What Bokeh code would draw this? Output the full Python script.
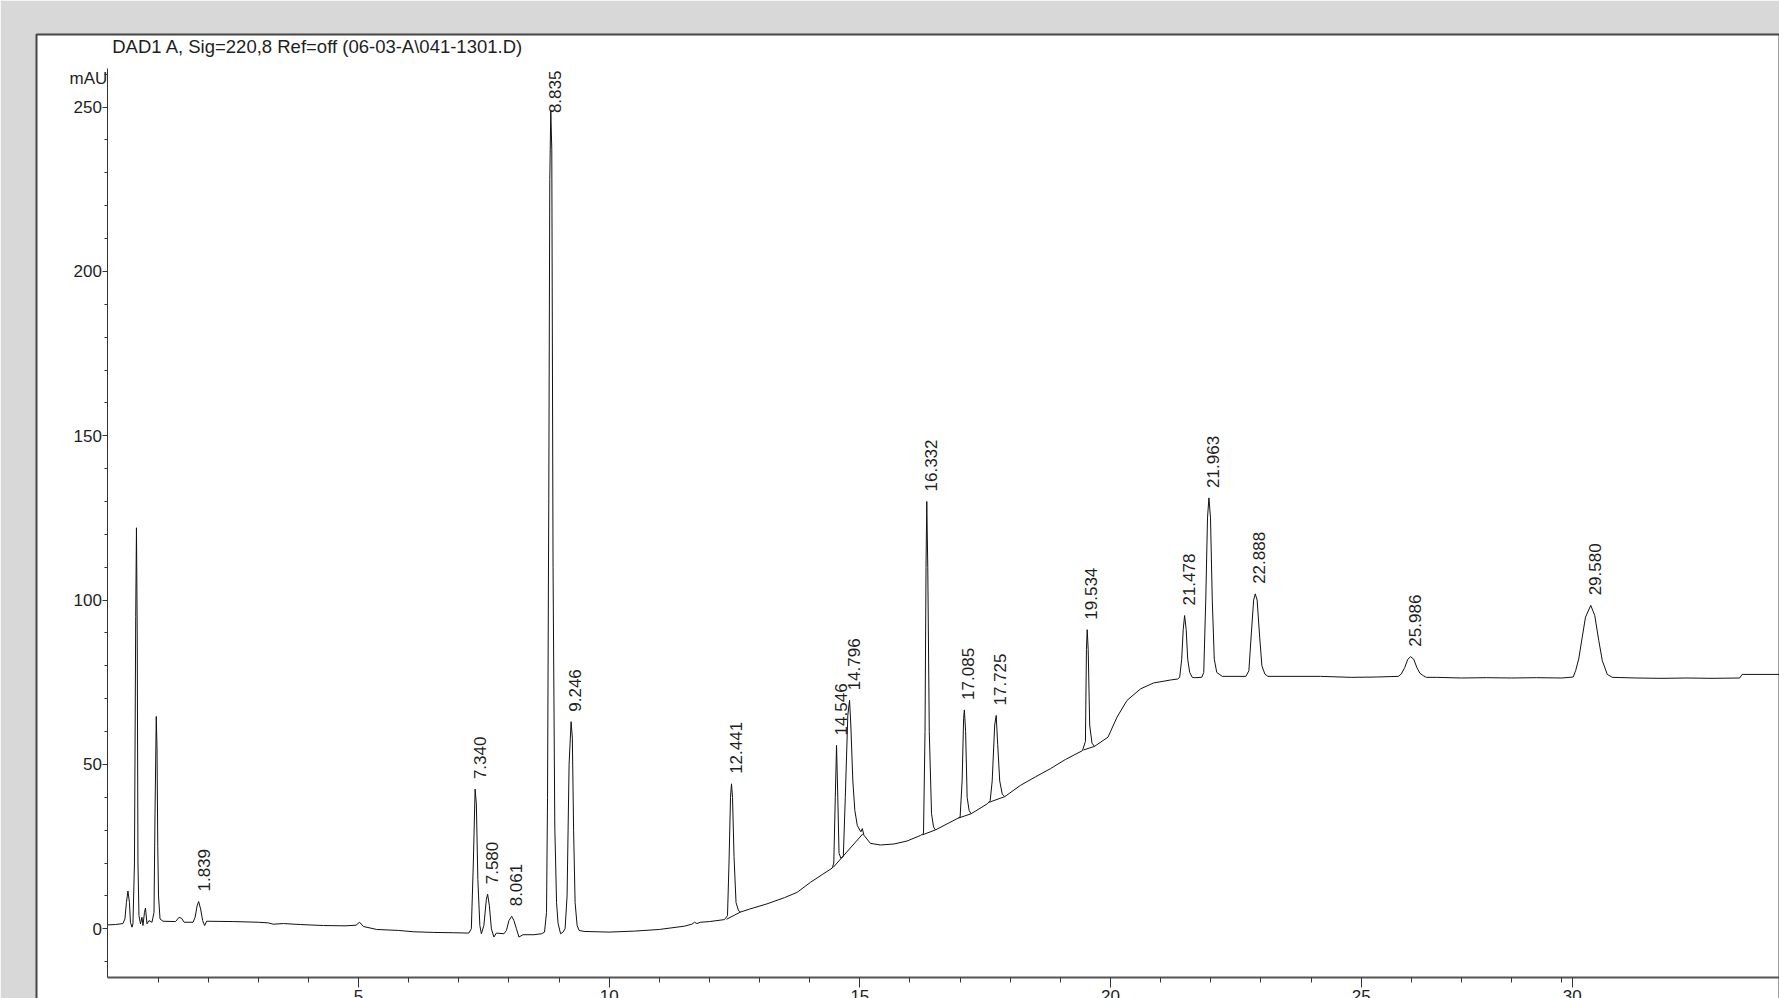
from bokeh.plotting import figure
from bokeh.models import (Range1d, LinearAxis, SingleIntervalTicker, FixedTicker,
                          ColumnDataSource)
from bokeh.embed import file_html
from bokeh.resources import INLINE
from bokeh.core.properties import value
from math import pi

# ---------------- data ----------------
trace_time = [0.00, 0.15, 0.30, 0.34, 0.37, 0.40, 0.43, 0.45, 0.48, 0.50, 0.53, 0.555, 0.57, 0.585,
              0.60, 0.62, 0.65, 0.68, 0.70, 0.73, 0.75, 0.78, 0.82, 0.88, 0.92, 0.94, 0.965, 0.98,
              0.995, 1.01, 1.04, 1.10, 1.35, 1.42, 1.47, 1.52, 1.70, 1.74, 1.78, 1.81, 1.85, 1.89,
              1.93, 1.97, 2.50, 3.00, 3.20, 3.30, 3.50, 3.84, 4.30, 4.73, 4.95, 5.02, 5.10, 5.36,
              5.80, 6.10, 6.50, 6.90, 7.20, 7.25, 7.29, 7.325, 7.35, 7.38, 7.42, 7.45, 7.50, 7.55,
              7.575, 7.61, 7.65, 7.70, 7.75, 7.90, 7.95, 8.00, 8.055, 8.10, 8.15, 8.20, 8.28, 8.50,
              8.65, 8.71, 8.75, 8.77, 8.795, 8.815, 8.835, 8.855, 8.88, 8.915, 8.95, 8.98, 9.03,
              9.08, 9.12, 9.16, 9.20, 9.24, 9.265, 9.29, 9.32, 9.36, 9.40, 9.50, 10.00, 10.50,
              11.00, 11.50, 11.65, 11.70, 11.75, 11.82, 12.00, 12.30, 12.36, 12.39, 12.42, 12.44,
              12.46, 12.49, 12.53, 12.58, 12.62, 12.80, 13.15, 13.50, 13.75, 14.02, 14.25, 14.45,
              14.48, 14.51, 14.535, 14.56, 14.585, 14.62, 14.67, 14.71, 14.76, 14.795, 14.82,
              14.86, 14.90, 14.95, 15.02, 15.05, 15.08, 15.21, 15.41, 15.68, 15.94, 16.21, 16.27,
              16.30, 16.32, 16.335, 16.355, 16.385, 16.43, 16.47, 16.51, 16.94, 17.00, 17.04,
              17.07, 17.085, 17.11, 17.14, 17.18, 17.22, 17.54, 17.60, 17.64, 17.69, 17.72, 17.75,
              17.79, 17.84, 17.89, 18.20, 18.50, 18.80, 19.10, 19.44, 19.50, 19.52, 19.535,
              19.555, 19.585, 19.63, 19.68, 19.95, 20.13, 20.33, 20.60, 20.86, 21.20, 21.34,
              21.38, 21.42, 21.45, 21.478, 21.51, 21.54, 21.58, 21.63, 21.68, 21.82, 21.86, 21.90,
              21.935, 21.963, 21.995, 22.03, 22.07, 22.12, 22.23, 22.70, 22.76, 22.81, 22.855,
              22.888, 22.925, 22.97, 23.02, 23.08, 23.14, 24.19, 24.80, 25.30, 25.74, 25.80,
              25.87, 25.93, 25.986, 26.05, 26.11, 26.17, 26.24, 26.30, 26.50, 27.00, 27.50, 28.00,
              28.50, 29.00, 29.23, 29.28, 29.34, 29.41, 29.475, 29.58, 29.66, 29.74, 29.81, 29.91,
              30.01, 30.50, 31.00, 31.50, 32.00, 32.55, 32.60, 33.40]
trace_mau = [1.2, 1.3, 1.6, 3.0, 8.0, 11.5, 8.0, 2.0, 0.5, 1.5, 20.0, 95.0, 122.0, 90.0,
             20.0, 4.0, 1.5, 3.5, 1.0, 5.0, 6.3, 1.5, 2.5, 2.0, 5.0, 35.0, 64.6, 55.0,
             25.0, 10.0, 3.0, 2.3, 2.2, 3.5, 3.2, 2.0, 2.0, 3.5, 7.0, 8.3, 6.0, 2.5,
             1.0, 2.3, 2.2, 2.0, 1.8, 1.4, 1.6, 1.3, 1.0, 0.9, 1.1, 2.0, 0.7, -0.2,
             -0.5, -0.9, -1.1, -1.2, -1.3, 0.0, 20.0, 42.5, 38.0, 15.0, 1.0, -1.5, 1.0, 9.0,
             10.5, 7.0, 0.0, -2.5, -1.3, -1.5, -0.5, 2.5, 3.8, 2.5, 0.0, -2.5, -1.8, -1.8,
             -1.5, -1.0, 5.0, 40.0, 131.0, 228.0, 249.0, 237.0, 110.0, 31.0, 8.0, 1.7, -1.5,
             -1.0, 0.0, 10.0, 50.0, 63.0, 58.0, 30.0, 8.0, 1.0, -0.5, -0.8, -1.0, -0.7,
             -0.2, 0.8, 1.4, 2.0, 1.6, 2.0, 2.2, 2.8, 4.0, 20.0, 40.0, 44.1,
             40.0, 22.0, 8.0, 5.5, 5.1, 6.0, 7.6, 9.5, 11.1, 14.2, 16.5, 18.5,
             20.0, 40.0, 55.8, 40.0, 23.0, 21.5, 22.0, 40.0, 65.0, 69.5, 62.0,
             45.0, 36.0, 31.4, 29.5, 30.5, 28.5, 26.0, 25.5, 25.8, 26.7, 28.4, 29.0,
             60.0, 110.0, 130.0, 110.0, 60.0, 35.0, 31.0, 30.1, 33.5, 34.0, 45.0,
             64.0, 66.6, 60.0, 40.0, 36.0, 35.0, 38.0, 39.0, 45.0, 62.0, 64.9, 56.0,
             45.0, 41.0, 40.2, 43.6, 46.2, 48.7, 51.5, 54.2, 57.0, 85.0, 91.0,
             85.0, 62.0, 56.5, 55.5, 58.3, 64.4, 69.5, 73.0, 74.8, 75.7, 76.0,
             76.5, 82.0, 91.0, 95.3, 91.0, 82.0, 78.0, 76.5, 76.4, 76.5, 78.0, 100.0,
             125.0, 131.1, 125.0, 100.0, 82.0, 78.0, 76.8, 76.8, 78.5, 90.0, 100.0,
             101.9, 100.0, 90.0, 80.0, 77.5, 76.8, 76.8, 76.5, 76.6, 76.8, 77.5,
             79.5, 82.0, 82.8, 82.0, 79.5, 77.8, 77.0, 76.5, 76.5, 76.3, 76.4, 76.3,
             76.4, 76.3, 76.6, 78.6, 82.1, 88.7, 94.8, 98.4, 95.3, 87.7, 81.6, 77.4,
             76.5, 76.3, 76.2, 76.3, 76.2, 76.3, 77.4, 77.4]

# integration baselines drawn under some peaks
base_t0 = [12.34, 14.47, 16.25, 16.97, 17.58, 19.46]
base_v0 = [2.9, 18.7, 28.6, 33.7, 38.5, 54.4]
base_t1 = [12.62, 15.06, 16.51, 17.22, 17.89, 19.68]
base_v1 = [5.1, 28.9, 30.1, 35.0, 40.2, 55.5]

peak_labels = ["1.839", "7.340", "7.580", "8.061", "8.835", "9.246", "12.441", "14.546",
               "14.796", "16.332", "17.085", "17.725", "19.534", "21.478", "21.963",
               "22.888", "25.986", "29.580"]
peak_rt = [1.839, 7.340, 7.580, 8.061, 8.835, 9.246, 12.441, 14.546,
           14.796, 16.332, 17.085, 17.725, 19.534, 21.478, 21.963,
           22.888, 25.986, 29.580]
peak_top = [8.3, 42.5, 10.5, 3.8, 249.0, 63.0, 44.1, 55.8,
            69.5, 130.0, 66.6, 64.9, 91.0, 95.3, 131.1,
            101.9, 82.8, 98.4]

x_major_ticks = [5, 10, 15, 20, 25, 29.21]
x_major_labels = ["5", "10", "15", "20", "25", "30"]
x_minor_ticks = [1, 2, 3, 4, 6, 7, 8, 9, 11, 12, 13, 14, 16, 17, 18, 19,
                 21, 22, 23, 24, 26, 27, 28, 29]

title_text = "DAD1 A, Sig=220,8 Ref=off (06-03-A\\041-1301.D)"
y_unit_text = "mAU"

# ---------------- styling / layout ----------------
FONT = "Liberation Sans"
INK = "#1e1e1e"
GRAY = "#d8d8d8"
# visible range of the white panel (frame) in data units
X0, X1 = -1.424, 33.365
Y0, Y1 = -21.81, 272.07
# extent of the drawn axes
AX_X0, AX_Y0, AX_Y1 = 0.0, -14.8, 261.7
FRAME_W, FRAME_H = 1744, 966

p = figure(width=1780, height=1034, frame_width=FRAME_W, frame_height=FRAME_H,
           x_range=Range1d(X0, X1), y_range=Range1d(Y0, Y1),
           x_axis_type=None, y_axis_type=None, title=None,
           output_backend="svg", toolbar_location=None,
           min_border_left=36, min_border_top=34, min_border_right=0, min_border_bottom=0,
           background_fill_color="white", border_fill_color=GRAY,
           outline_line_color="#454545", outline_line_width=2)
p.grid.visible = False

yaxis = LinearAxis(ticker=SingleIntervalTicker(interval=50, num_minor_ticks=5),
                   fixed_location=AX_X0, bounds=(AX_Y0, AX_Y1))
yaxis.axis_line_color = "#333333"
yaxis.major_tick_line_color = "#333333"
yaxis.minor_tick_line_color = "#333333"
yaxis.major_tick_out = 5
yaxis.major_tick_in = 0
yaxis.minor_tick_out = 3
yaxis.minor_tick_in = 0
yaxis.major_label_standoff = 1
yaxis.major_label_text_font = FONT
yaxis.major_label_text_font_size = "17px"
yaxis.major_label_text_color = INK
p.add_layout(yaxis, "left")

xaxis = LinearAxis(ticker=FixedTicker(ticks=x_major_ticks, minor_ticks=x_minor_ticks),
                   major_label_overrides={t: s for t, s in zip(x_major_ticks, x_major_labels)},
                   fixed_location=AX_Y0, bounds=(AX_X0, X1 + 1))
xaxis.axis_line_color = "#555555"
xaxis.axis_line_width = 2
xaxis.major_tick_line_color = "#333333"
xaxis.minor_tick_line_color = "#333333"
xaxis.major_tick_out = 10
xaxis.major_tick_in = 0
xaxis.minor_tick_out = 5
xaxis.minor_tick_in = 0
xaxis.major_label_standoff = 3
xaxis.major_label_text_font = FONT
xaxis.major_label_text_font_size = "17px"
xaxis.major_label_text_color = INK
p.add_layout(xaxis, "below")

# trace
p.line(trace_time, trace_mau, line_color="#111111", line_width=1)
p.segment(x0=base_t0, y0=base_v0, x1=base_t1, y1=base_v1, line_color="#111111", line_width=1)

# peak labels (rotated), kept below the top of the y axis
ppu = FRAME_H / (Y1 - Y0)
GAP = 10.0
yoffs = []
for lab, top in zip(peak_labels, peak_top):
    length_px = 17 * (0.556 * (len(lab) - 1) + 0.278) + 2
    space_px = (AX_Y1 - top) * ppu
    yoffs.append(-min(GAP, space_px - length_px))
src = ColumnDataSource(dict(x=peak_rt, y=peak_top, text=peak_labels, yoff=yoffs))
p.text(x="x", y="y", text="text", source=src, angle=pi / 2,
       text_align="left", text_baseline="middle", x_offset=4, y_offset="yoff",
       text_font=value(FONT), text_font_size="17px", text_color=INK)

# title and unit (inside the white panel), placed just below the panel's top edge
title_px, unit_px = 12.0, 44.0   # distance of text centre below panel top
p.text(x=[0.086], y=[Y1 - title_px / ppu], text=[title_text], text_font=value(FONT),
       text_font_size="18.5px", text_color=INK, text_align="left", text_baseline="middle")
p.text(x=[AX_X0 - 0.01], y=[Y1 - unit_px / ppu], text=[y_unit_text], text_font=value(FONT),
       text_font_size="17px", text_color=INK, text_align="right", text_baseline="middle")

open("out.html", "w").write(file_html(p, INLINE))
